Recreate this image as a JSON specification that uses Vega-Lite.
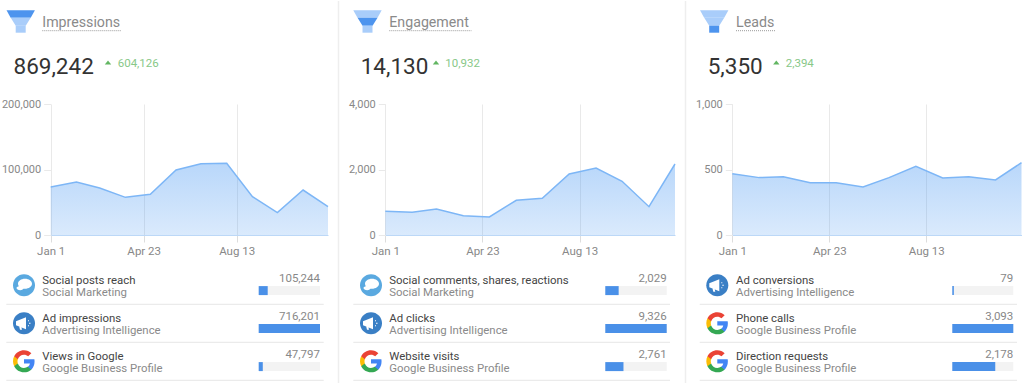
{
"$schema":"https://vega.github.io/schema/vega-lite/v6.json",
"padding":0,"background":"white","bounds":"flush","columns":3,"spacing":{"row":0,"column":0},
"datasets":{
"summary":[{"panel":"Impressions","total":869242,"delta":604126},{"panel":"Engagement","total":14130,"delta":10932},{"panel":"Leads","total":5350,"delta":2394}],
"trend":[
{"panel":"Impressions","date":"2023-01-01T00:00:00","value":73300},{"panel":"Impressions","date":"2023-02-01T00:00:00","value":80900},{"panel":"Impressions","date":"2023-03-01T00:00:00","value":71800},{"panel":"Impressions","date":"2023-04-01T00:00:00","value":57500},{"panel":"Impressions","date":"2023-05-01T00:00:00","value":62100},{"panel":"Impressions","date":"2023-06-01T00:00:00","value":99200},{"panel":"Impressions","date":"2023-07-01T00:00:00","value":108900},{"panel":"Impressions","date":"2023-08-01T00:00:00","value":109400},{"panel":"Impressions","date":"2023-09-01T00:00:00","value":58500},{"panel":"Impressions","date":"2023-10-01T00:00:00","value":34100},{"panel":"Impressions","date":"2023-11-01T00:00:00","value":68700},{"panel":"Impressions","date":"2023-12-01T00:00:00","value":43300},
{"panel":"Engagement","date":"2023-01-01T00:00:00","value":723},{"panel":"Engagement","date":"2023-02-01T00:00:00","value":692},{"panel":"Engagement","date":"2023-03-01T00:00:00","value":794},{"panel":"Engagement","date":"2023-04-01T00:00:00","value":590},{"panel":"Engagement","date":"2023-05-01T00:00:00","value":550},{"panel":"Engagement","date":"2023-06-01T00:00:00","value":1058},{"panel":"Engagement","date":"2023-07-01T00:00:00","value":1120},{"panel":"Engagement","date":"2023-08-01T00:00:00","value":1863},{"panel":"Engagement","date":"2023-09-01T00:00:00","value":2046},{"panel":"Engagement","date":"2023-10-01T00:00:00","value":1639},{"panel":"Engagement","date":"2023-11-01T00:00:00","value":865},{"panel":"Engagement","date":"2023-12-01T00:00:00","value":2168},
{"panel":"Leads","date":"2023-01-01T00:00:00","value":468},{"panel":"Leads","date":"2023-02-01T00:00:00","value":438},{"panel":"Leads","date":"2023-03-01T00:00:00","value":445},{"panel":"Leads","date":"2023-04-01T00:00:00","value":399},{"panel":"Leads","date":"2023-05-01T00:00:00","value":399},{"panel":"Leads","date":"2023-06-01T00:00:00","value":366},{"panel":"Leads","date":"2023-07-01T00:00:00","value":438},{"panel":"Leads","date":"2023-08-01T00:00:00","value":524},{"panel":"Leads","date":"2023-09-01T00:00:00","value":435},{"panel":"Leads","date":"2023-10-01T00:00:00","value":445},{"panel":"Leads","date":"2023-11-01T00:00:00","value":420},{"panel":"Leads","date":"2023-12-01T00:00:00","value":552}
],
"grid":[{"panel":"Impressions","tick":0},{"panel":"Impressions","tick":100000},{"panel":"Impressions","tick":200000},{"panel":"Engagement","tick":0},{"panel":"Engagement","tick":2000},{"panel":"Engagement","tick":4000},{"panel":"Leads","tick":0},{"panel":"Leads","tick":500},{"panel":"Leads","tick":1000}],
"sources":[
{"panel":"Impressions","metric":"Social posts reach","tool":"Social Marketing","value":105244},{"panel":"Impressions","metric":"Ad impressions","tool":"Advertising Intelligence","value":716201},{"panel":"Impressions","metric":"Views in Google","tool":"Google Business Profile","value":47797},
{"panel":"Engagement","metric":"Social comments, shares, reactions","tool":"Social Marketing","value":2029},{"panel":"Engagement","metric":"Ad clicks","tool":"Advertising Intelligence","value":9326},{"panel":"Engagement","metric":"Website visits","tool":"Google Business Profile","value":2761},
{"panel":"Leads","metric":"Ad conversions","tool":"Advertising Intelligence","value":79},{"panel":"Leads","metric":"Phone calls","tool":"Google Business Profile","value":3093},{"panel":"Leads","metric":"Direction requests","tool":"Google Business Profile","value":2178}
]},
"concat":[
{"width":338,"height":103,"data":{"name":"summary"},"transform":[{"filter":"datum.panel==='Impressions'"}],"layer":[
{"mark":{"type":"point","filled":true,"style":"t1","color":"#4d94ee"},"encoding":{"x":{"value":20.7},"y":{"value":20.5}}},
{"mark":{"type":"point","filled":true,"style":"t2","color":"#a9cdfa"},"encoding":{"x":{"value":20.7},"y":{"value":20.5}}},
{"mark":{"type":"point","filled":true,"style":"t3","color":"#a9cdfa"},"encoding":{"x":{"value":20.7},"y":{"value":20.5}}},
{"mark":{"type":"text","style":"ttl"},"encoding":{"text":{"field":"panel"},"x":{"value":42.3},"y":{"value":26}}},
{"mark":{"type":"rule","style":"dot"},"encoding":{"x":{"value":42.3},"x2":{"value":121},"y":{"value":29.7}}},
{"mark":{"type":"text","style":"tot"},"encoding":{"text":{"field":"total","format":","},"x":{"value":13.5},"y":{"value":72.7}}},
{"mark":{"type":"point","filled":true,"style":"tri"},"encoding":{"x":{"value":108},"y":{"value":61.5}}},
{"mark":{"type":"text","style":"dlt"},"encoding":{"text":{"field":"delta","format":","},"x":{"value":117.7},"y":{"value":66}}}
]},
{"width":347,"height":103,"data":{"name":"summary"},"transform":[{"filter":"datum.panel==='Engagement'"}],"layer":[
{"mark":{"type":"rule","style":"div"},"encoding":{"x":{"value":0.5},"y":{"value":0},"y2":{"value":103}}},
{"mark":{"type":"point","filled":true,"style":"t1","color":"#a9cdfa"},"encoding":{"x":{"value":29.5},"y":{"value":20.5}}},
{"mark":{"type":"point","filled":true,"style":"t2","color":"#4d94ee"},"encoding":{"x":{"value":29.5},"y":{"value":20.5}}},
{"mark":{"type":"point","filled":true,"style":"t3","color":"#a9cdfa"},"encoding":{"x":{"value":29.5},"y":{"value":20.5}}},
{"mark":{"type":"text","style":"ttl"},"encoding":{"text":{"field":"panel"},"x":{"value":51.3},"y":{"value":26}}},
{"mark":{"type":"rule","style":"dot"},"encoding":{"x":{"value":51.3},"x2":{"value":133.7},"y":{"value":29.7}}},
{"mark":{"type":"text","style":"tot"},"encoding":{"text":{"field":"total","format":","},"x":{"value":22.7},"y":{"value":72.7}}},
{"mark":{"type":"point","filled":true,"style":"tri"},"encoding":{"x":{"value":98},"y":{"value":61.5}}},
{"mark":{"type":"text","style":"dlt"},"encoding":{"text":{"field":"delta","format":","},"x":{"value":107.3},"y":{"value":66}}}
]},
{"width":339,"height":103,"data":{"name":"summary"},"transform":[{"filter":"datum.panel==='Leads'"}],"layer":[
{"mark":{"type":"rule","style":"div"},"encoding":{"x":{"value":0.5},"y":{"value":0},"y2":{"value":103}}},
{"mark":{"type":"point","filled":true,"style":"t1","color":"#a9cdfa"},"encoding":{"x":{"value":29.2},"y":{"value":20.5}}},
{"mark":{"type":"point","filled":true,"style":"t2","color":"#a9cdfa"},"encoding":{"x":{"value":29.2},"y":{"value":20.5}}},
{"mark":{"type":"point","filled":true,"style":"t3","color":"#4d94ee"},"encoding":{"x":{"value":29.2},"y":{"value":20.5}}},
{"mark":{"type":"text","style":"ttl"},"encoding":{"text":{"field":"panel"},"x":{"value":51},"y":{"value":26}}},
{"mark":{"type":"rule","style":"dot"},"encoding":{"x":{"value":51},"x2":{"value":90},"y":{"value":29.7}}},
{"mark":{"type":"text","style":"tot"},"encoding":{"text":{"field":"total","format":","},"x":{"value":22.7},"y":{"value":72.7}}},
{"mark":{"type":"point","filled":true,"style":"tri"},"encoding":{"x":{"value":91.3},"y":{"value":61.5}}},
{"mark":{"type":"text","style":"dlt"},"encoding":{"text":{"field":"delta","format":","},"x":{"value":100.7},"y":{"value":66}}}
]},
{"width":338,"height":131,"data":{"name":"trend"},"transform":[{"filter":"datum.panel==='Impressions'"}],
"encoding":{"x":{"field":"date","type":"temporal","title":null,"scale":{"nice":false,"range":[50.7,328]},"axis":{"values":["2023-01-01T00:00:00","2023-04-23T00:00:00","2023-08-13T00:00:00"],"format":"%b %-d"}},
"y":{"field":"value","type":"quantitative","title":null,"scale":{"domain":[0,200000],"nice":false},"axis":{"values":[0,100000,200000],"format":",.0f","offset":-50.7}}},
"layer":[
{"data":{"name":"grid"},"transform":[{"filter":"datum.panel==='Impressions'"}],"mark":{"type":"rule","style":"grd"},"encoding":{"y":{"field":"tick","type":"quantitative","title":null,"axis":{"values":[0,100000,200000],"format":",.0f","offset":-50.7}},"x":{"datum":"2023-01-01T00:00:00","type":"temporal","title":null},"x2":{"datum":"2023-12-01T00:00:00"}}},
{"mark":{"type":"area","style":"ta"}},
{"mark":{"type":"line","style":"tl"}}
]},
{"width":347,"height":131,"data":{"name":"trend"},"transform":[{"filter":"datum.panel==='Engagement'"}],
"encoding":{"x":{"field":"date","type":"temporal","title":null,"scale":{"nice":false,"range":[47.3,337]},"axis":{"values":["2023-01-01T00:00:00","2023-04-23T00:00:00","2023-08-13T00:00:00"],"format":"%b %-d"}},
"y":{"field":"value","type":"quantitative","title":null,"scale":{"domain":[0,4000],"nice":false},"axis":{"values":[0,2000,4000],"format":",.0f","offset":-47.3}}},
"layer":[
{"data":{"name":"grid"},"transform":[{"filter":"datum.panel==='Engagement'"}],"mark":{"type":"rule","style":"grd"},"encoding":{"y":{"field":"tick","type":"quantitative","title":null,"axis":{"values":[0,2000,4000],"format":",.0f","offset":-47.3}},"x":{"datum":"2023-01-01T00:00:00","type":"temporal","title":null},"x2":{"datum":"2023-12-01T00:00:00"}}},
{"data":{"name":"summary"},"transform":[{"filter":"datum.panel==='Engagement'"}],"mark":{"type":"rule","style":"div"},"encoding":{"x":{"value":0.5},"y":{"value":0},"y2":{"value":131}}},
{"mark":{"type":"area","style":"ta"}},
{"mark":{"type":"line","style":"tl"}}
]},
{"width":339,"height":131,"data":{"name":"trend"},"transform":[{"filter":"datum.panel==='Leads'"}],
"encoding":{"x":{"field":"date","type":"temporal","title":null,"scale":{"nice":false,"range":[47.3,336.5]},"axis":{"values":["2023-01-01T00:00:00","2023-04-23T00:00:00","2023-08-13T00:00:00"],"format":"%b %-d"}},
"y":{"field":"value","type":"quantitative","title":null,"scale":{"domain":[0,1000],"nice":false},"axis":{"values":[0,500,1000],"format":",.0f","offset":-47.3}}},
"layer":[
{"data":{"name":"grid"},"transform":[{"filter":"datum.panel==='Leads'"}],"mark":{"type":"rule","style":"grd"},"encoding":{"y":{"field":"tick","type":"quantitative","title":null,"axis":{"values":[0,500,1000],"format":",.0f","offset":-47.3}},"x":{"datum":"2023-01-01T00:00:00","type":"temporal","title":null},"x2":{"datum":"2023-12-01T00:00:00"}}},
{"data":{"name":"summary"},"transform":[{"filter":"datum.panel==='Leads'"}],"mark":{"type":"rule","style":"div"},"encoding":{"x":{"value":0.5},"y":{"value":0},"y2":{"value":131}}},
{"mark":{"type":"area","style":"ta"}},
{"mark":{"type":"line","style":"tl"}}
]},
{"width":338,"height":149,"data":{"name":"sources"},"transform":[{"filter":"datum.panel==='Impressions'"}],
"encoding":{"y":{"field":"metric","type":"nominal","sort":null,"axis":null,"scale":{"range":[31.3,145.3],"paddingInner":0,"paddingOuter":0}},"x":{"field":"value","type":"quantitative","axis":null,"scale":{"domain":[0,716201],"range":[258.7,320],"nice":false,"zero":true}}},
"layer":[
{"mark":{"type":"rule","style":"sep"},"encoding":{"y":{"field":"metric","type":"nominal","sort":null,"bandPosition":1},"x":{"value":6.3},"x2":{"value":323.7}}},
{"mark":{"type":"bar","style":"bg","height":9,"yOffset":5.3},"encoding":{"x":{"datum":716201},"x2":{"datum":0}}},
{"mark":{"type":"bar","style":"fg","height":9,"yOffset":5.3},"encoding":{"x":{"field":"value","type":"quantitative","stack":null}}},
{"mark":{"type":"text","style":"num"},"encoding":{"text":{"field":"value","format":","},"x":{"datum":716201}}},
{"mark":{"type":"text","style":"nam"},"encoding":{"text":{"field":"metric"},"x":{"value":42.3}}},
{"mark":{"type":"text","style":"src"},"encoding":{"text":{"field":"tool"},"x":{"value":42.3}}},
{"transform":[{"filter":"datum.tool==='Social Marketing'"}],"layer":[{"mark":{"type":"point","filled":true,"style":"cs"},"encoding":{"x":{"value":24}}},{"mark":{"type":"point","filled":true,"style":"bub"},"encoding":{"x":{"value":24}}}]},
{"transform":[{"filter":"datum.tool==='Advertising Intelligence'"}],"layer":[{"mark":{"type":"point","filled":true,"style":"ca"},"encoding":{"x":{"value":24}}},{"mark":{"type":"point","filled":true,"style":"meg"},"encoding":{"x":{"value":24}}}]},
{"transform":[{"filter":"datum.tool==='Google Business Profile'"}],"layer":[{"mark":{"type":"point","filled":true,"style":"gb"},"encoding":{"x":{"value":24}}},{"mark":{"type":"point","filled":true,"style":"gg"},"encoding":{"x":{"value":24}}},{"mark":{"type":"point","filled":true,"style":"gy"},"encoding":{"x":{"value":24}}},{"mark":{"type":"point","filled":true,"style":"gr"},"encoding":{"x":{"value":24}}}]}
]},
{"width":347,"height":149,"data":{"name":"sources"},"transform":[{"filter":"datum.panel==='Engagement'"}],
"encoding":{"y":{"field":"metric","type":"nominal","sort":null,"axis":null,"scale":{"range":[31.3,145.3],"paddingInner":0,"paddingOuter":0}},"x":{"field":"value","type":"quantitative","axis":null,"scale":{"domain":[0,9326],"range":[267.3,328.7],"nice":false,"zero":true}}},
"layer":[
{"data":{"name":"summary"},"transform":[{"filter":"datum.panel==='Engagement'"}],"mark":{"type":"rule","style":"div"},"encoding":{"x":{"value":0.5},"y":{"value":0},"y2":{"value":149}}},
{"mark":{"type":"rule","style":"sep"},"encoding":{"y":{"field":"metric","type":"nominal","sort":null,"bandPosition":1},"x":{"value":15.3},"x2":{"value":332}}},
{"mark":{"type":"bar","style":"bg","height":9,"yOffset":5.3},"encoding":{"x":{"datum":9326},"x2":{"datum":0}}},
{"mark":{"type":"bar","style":"fg","height":9,"yOffset":5.3},"encoding":{"x":{"field":"value","type":"quantitative","stack":null}}},
{"mark":{"type":"text","style":"num"},"encoding":{"text":{"field":"value","format":","},"x":{"datum":9326}}},
{"mark":{"type":"text","style":"nam"},"encoding":{"text":{"field":"metric"},"x":{"value":51.3}}},
{"mark":{"type":"text","style":"src"},"encoding":{"text":{"field":"tool"},"x":{"value":51.3}}},
{"transform":[{"filter":"datum.tool==='Social Marketing'"}],"layer":[{"mark":{"type":"point","filled":true,"style":"cs"},"encoding":{"x":{"value":33}}},{"mark":{"type":"point","filled":true,"style":"bub"},"encoding":{"x":{"value":33}}}]},
{"transform":[{"filter":"datum.tool==='Advertising Intelligence'"}],"layer":[{"mark":{"type":"point","filled":true,"style":"ca"},"encoding":{"x":{"value":33}}},{"mark":{"type":"point","filled":true,"style":"meg"},"encoding":{"x":{"value":33}}}]},
{"transform":[{"filter":"datum.tool==='Google Business Profile'"}],"layer":[{"mark":{"type":"point","filled":true,"style":"gb"},"encoding":{"x":{"value":33}}},{"mark":{"type":"point","filled":true,"style":"gg"},"encoding":{"x":{"value":33}}},{"mark":{"type":"point","filled":true,"style":"gy"},"encoding":{"x":{"value":33}}},{"mark":{"type":"point","filled":true,"style":"gr"},"encoding":{"x":{"value":33}}}]}
]},
{"width":339,"height":149,"data":{"name":"sources"},"transform":[{"filter":"datum.panel==='Leads'"}],
"encoding":{"y":{"field":"metric","type":"nominal","sort":null,"axis":null,"scale":{"range":[31.3,145.3],"paddingInner":0,"paddingOuter":0}},"x":{"field":"value","type":"quantitative","axis":null,"scale":{"domain":[0,3093],"range":[267.3,328.3],"nice":false,"zero":true}}},
"layer":[
{"data":{"name":"summary"},"transform":[{"filter":"datum.panel==='Leads'"}],"mark":{"type":"rule","style":"div"},"encoding":{"x":{"value":0.5},"y":{"value":0},"y2":{"value":149}}},
{"mark":{"type":"rule","style":"sep"},"encoding":{"y":{"field":"metric","type":"nominal","sort":null,"bandPosition":1},"x":{"value":14.7},"x2":{"value":332}}},
{"mark":{"type":"bar","style":"bg","height":9,"yOffset":5.3},"encoding":{"x":{"datum":3093},"x2":{"datum":0}}},
{"mark":{"type":"bar","style":"fg","height":9,"yOffset":5.3},"encoding":{"x":{"field":"value","type":"quantitative","stack":null}}},
{"mark":{"type":"text","style":"num"},"encoding":{"text":{"field":"value","format":","},"x":{"datum":3093}}},
{"mark":{"type":"text","style":"nam"},"encoding":{"text":{"field":"metric"},"x":{"value":51}}},
{"mark":{"type":"text","style":"src"},"encoding":{"text":{"field":"tool"},"x":{"value":51}}},
{"transform":[{"filter":"datum.tool==='Advertising Intelligence'"}],"layer":[{"mark":{"type":"point","filled":true,"style":"ca"},"encoding":{"x":{"value":32.3}}},{"mark":{"type":"point","filled":true,"style":"meg"},"encoding":{"x":{"value":32.3}}}]},
{"transform":[{"filter":"datum.tool==='Google Business Profile'"}],"layer":[{"mark":{"type":"point","filled":true,"style":"gb"},"encoding":{"x":{"value":32.3}}},{"mark":{"type":"point","filled":true,"style":"gg"},"encoding":{"x":{"value":32.3}}},{"mark":{"type":"point","filled":true,"style":"gy"},"encoding":{"x":{"value":32.3}}},{"mark":{"type":"point","filled":true,"style":"gr"},"encoding":{"x":{"value":32.3}}}]}
]}
],
"config":{
"view":{"stroke":null},
"font":"Roboto",
"axisX":{"domainColor":"#bcd8f7","domainWidth":1,"grid":true,"gridColor":"#e9e9e9","gridWidth":1,"ticks":true,"tickColor":"#dddddd","tickSize":7,"labelColor":"#888888","labelFontSize":11.5,"labelFont":"Roboto","labelPadding":3,"labelFlush":false,"labelOverlap":false},
"axisY":{"domain":false,"grid":false,"ticks":true,"tickColor":"#e9e9e9","tickSize":7,"labelColor":"#888888","labelFontSize":11,"labelFont":"Roboto","labelPadding":3},
"style":{
"t1":{"shape":"M-14.2,-11.2H14.2L10,-3.8H-10Z","size":4,"opacity":1,"strokeWidth":0},
"t2":{"shape":"M-10,-3.8H10L5,4.2H-5Z","size":4,"opacity":1,"strokeWidth":0},
"t3":{"shape":"M-5,4.2H5V11.2H-5Z","size":4,"opacity":1,"strokeWidth":0},
"tri":{"shape":"M-3.2,2L0,-2L3.2,2Z","size":4,"opacity":1,"strokeWidth":0,"color":"#62b662"},
"ttl":{"align":"left","baseline":"alphabetic","fontSize":14.2,"color":"#8a8a8a","font":"Roboto"},
"tot":{"align":"left","baseline":"alphabetic","fontSize":22.5,"color":"#333333","font":"Roboto"},
"dlt":{"align":"left","baseline":"alphabetic","fontSize":11.5,"color":"#88c888","font":"Roboto"},
"dot":{"color":"#9a9a9a","strokeWidth":1,"strokeDash":[1,1]},
"div":{"color":"#eeeeee","strokeWidth":1.5},
"grd":{"color":"#e9e9e9","strokeWidth":1},
"sep":{"color":"#e6e6e6","strokeWidth":1},
"ta":{"color":{"gradient":"linear","x1":0,"y1":0,"x2":0,"y2":1,"stops":[{"offset":0,"color":"rgba(70,150,242,0.38)"},{"offset":1,"color":"rgba(70,150,242,0.2)"}]},"opacity":1},
"tl":{"color":"#7db6f6","strokeWidth":1.5},
"bg":{"color":"#f3f3f3"},
"fg":{"color":"#4a90e8"},
"num":{"align":"right","baseline":"alphabetic","dy":-3,"fontSize":11.5,"color":"#888888","font":"Roboto"},
"nam":{"align":"left","baseline":"alphabetic","dy":-1.7,"fontSize":11.4,"color":"#444444","font":"Roboto"},
"src":{"align":"left","baseline":"alphabetic","dy":10.2,"fontSize":11.4,"color":"#8a8a8a","font":"Roboto"},
"cs":{"shape":"M-11,0A11,11 0 1,1 11,0A11,11 0 1,1 -11,0Z","size":4,"opacity":1,"strokeWidth":0,"color":"#5aa9e0"},
"ca":{"shape":"M-11,0A11,11 0 1,1 11,0A11,11 0 1,1 -11,0Z","size":4,"opacity":1,"strokeWidth":0,"color":"#3a7fc5"},
"bub":{"shape":"M-6,-1.5A7,5 0 1,1 8,-1.5A7,5 0 1,1 -6,-1.5Z M-7.5,2.8A3.6,2.2 0 1,1 -0.3,2.8A3.6,2.2 0 1,1 -7.5,2.8Z","size":4,"opacity":1,"strokeWidth":0,"color":"#ffffff"},
"meg":{"shape":"M-8,-2L2,-6V6L-8,2Z M-5,2.5L-3,2.5L-2,6.5L-4,6.5Z M4,-3h1v1h-1z M5,-0.5h1.5v1h-1.5z M4,2h1v1h-1z","size":4,"opacity":1,"strokeWidth":0,"color":"#ffffff"},
"gb":{"shape":"M10.56 .25c0-.78-.07-1.53-.2-2.25H0v4.26h5.92c-.26 1.37-1.04 2.53-2.21 3.31v2.77h3.57c2.08-1.92 3.28-4.74 3.28-8.09z","size":4,"opacity":1,"strokeWidth":0,"color":"#4285f4"},
"gg":{"shape":"M0 11c2.97 0 5.46-.98 7.28-2.66l-3.57-2.77c-.98.66-2.23 1.06-3.71 1.06-2.86 0-5.29-1.93-6.16-4.53H-9.82v2.84C-8.01 8.53 -4.3 11 0 11z","size":4,"opacity":1,"strokeWidth":0,"color":"#34a853"},
"gy":{"shape":"M-6.16 2.09c-.22-.66-.35-1.36-.35-2.09s.13-1.43.35-2.09V-4.93H-9.82C-10.57 -3.45 -11 -1.78 -11 0s.43 3.45 1.18 4.93l2.85-2.22.81-.62z","size":4,"opacity":1,"strokeWidth":0,"color":"#fbbc05"},
"gr":{"shape":"M0 -6.62c1.62 0 3.06.56 4.21 1.64l3.15-3.15C5.45 -9.91 2.97 -11 0 -11 -4.3 -11 -8.01 -8.53 -9.82 -4.93l3.66 2.84c.87-2.6 3.3-4.53 6.16-4.53z","size":4,"opacity":1,"strokeWidth":0,"color":"#ea4335"}
}}
}
